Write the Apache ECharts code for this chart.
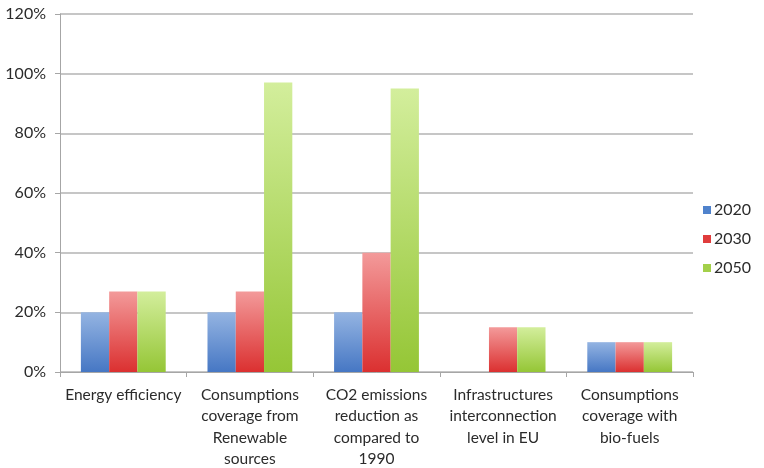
<!DOCTYPE html>
<html>
<head>
<meta charset="utf-8">
<script src="https://cdn.jsdelivr.net/npm/echarts@6/dist/echarts.min.js"></script>
<style>
  html, body { margin: 0; padding: 0; background: #ffffff; }
  #chart { width: 764px; height: 468px; }
</style>
</head>
<body>
<div id="chart"></div>
<script>
// Energy policy targets by horizon year (share, %)
const categories = [
  'Energy efficiency',
  'Consumptions\ncoverage from\nRenewable\nsources',
  'CO2 emissions\nreduction as\ncompared to\n1990',
  'Infrastructures\ninterconnection\nlevel in EU',
  'Consumptions\ncoverage with\nbio-fuels'
];
const years = ['2020', '2030', '2050'];
const values2020 = [20, 20, 20, null, 10];
const values2030 = [27, 27, 40, 15, 10];
const values2050 = [27, 97, 95, 15, 10];
const yTicks = [0, 20, 40, 60, 80, 100, 120];

function grad(top, bottom) {
  return new echarts.graphic.LinearGradient(0, 0, 0, 1, [
    { offset: 0, color: top },
    { offset: 1, color: bottom }
  ]);
}

const palette = [
  { top: '#94b4e2', bottom: '#4677c4', legend: '#4f82cc' },
  { top: '#f39a9a', bottom: '#db3030', legend: '#e03c3c' },
  { top: '#d3ee9c', bottom: '#95c636', legend: '#a3d04a' }
];
const seriesValues = [values2020, values2030, values2050];

const chart = echarts.init(document.getElementById('chart'));
chart.setOption({
  animation: false,
  textStyle: { fontFamily: 'Lato, "Open Sans", sans-serif' },
  grid: {
    left: 60, right: 71, top: 14, bottom: 96,
    containLabel: false,
    outerBoundsMode: 'none'
  },
  legend: {
    orient: 'vertical',
    left: 698,
    top: 197,
    itemWidth: 8,
    itemHeight: 8,
    itemGap: 13,
    icon: 'rect',
    textStyle: { fontSize: 16, color: '#2b2b2b', padding: [0, 0, 0, -2] },
    data: years.map((y, i) => ({ name: y, itemStyle: { color: palette[i].legend } }))
  },
  xAxis: {
    type: 'category',
    data: categories,
    axisLine: { lineStyle: { color: '#a6a6a6', width: 1 } },
    axisTick: { show: true, length: 5, lineStyle: { color: '#a6a6a6' } },
    axisLabel: {
      interval: 0,
      fontSize: 15.5,
      color: '#2b2b2b',
      lineHeight: 21.5,
      margin: 12,
      align: 'center'
    }
  },
  yAxis: {
    type: 'value',
    min: yTicks[0],
    max: yTicks[yTicks.length - 1],
    interval: 20,
    axisLine: { show: true, lineStyle: { color: '#a6a6a6' } },
    axisTick: { show: true, length: 5, lineStyle: { color: '#a6a6a6' } },
    splitLine: { lineStyle: { color: '#b3b3b3', width: 1.5 } },
    axisLabel: {
      fontSize: 16,
      color: '#2b2b2b',
      margin: 14,
      formatter: v => v + '%'
    }
  },
  series: years.map((y, i) => ({
    name: y,
    type: 'bar',
    data: seriesValues[i],
    barGap: '0%',
    barCategoryGap: '33%',
    itemStyle: { color: grad(palette[i].top, palette[i].bottom) }
  }))
});
</script>
</body>
</html>
